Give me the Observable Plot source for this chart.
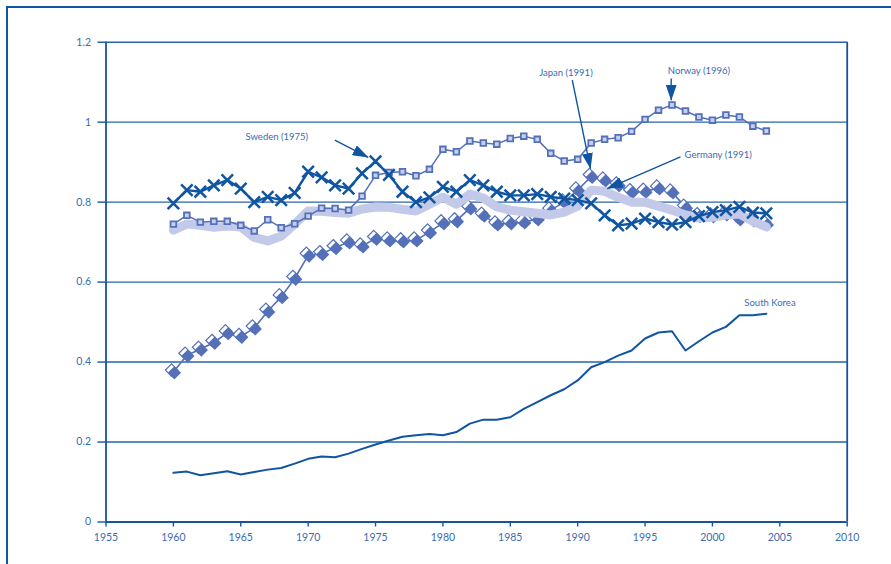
<!DOCTYPE html>
<html>
<head>
<meta charset="utf-8">
<script src="https://cdn.jsdelivr.net/npm/d3@7"></script>
<script src="https://cdn.jsdelivr.net/npm/@observablehq/plot@0.6"></script>
<style>
  html, body { margin: 0; padding: 0; background: #fff; overflow: hidden; }
  #wrap { position: relative; width: 891px; height: 564px; }
  #frame { position: absolute; left: 6px; top: 6px; width: 1000px; height: 1000px;
           border: 2.5px solid #1256a3; pointer-events: none; }
</style>
</head>
<body>
<div id="wrap"><div id="chart"></div><div id="frame"></div></div>
<script>
// ---- data ----
const years = [1960,1961,1962,1963,1964,1965,1966,1967,1968,1969,
               1970,1971,1972,1973,1974,1975,1976,1977,1978,1979,
               1980,1981,1982,1983,1984,1985,1986,1987,1988,1989,
               1990,1991,1992,1993,1994,1995,1996,1997,1998,1999,
               2000,2001,2002,2003,2004];

const sweden = [0.797,0.830,0.826,0.842,0.855,0.834,0.800,0.813,0.805,0.823,
                0.876,0.862,0.842,0.834,0.872,0.902,0.868,0.826,0.800,0.812,
                0.838,0.826,0.855,0.842,0.826,0.817,0.817,0.820,0.813,0.809,
                0.805,0.797,0.767,0.742,0.746,0.759,0.750,0.744,0.750,0.765,
                0.775,0.780,0.788,0.774,0.772];

const norway = [0.745,0.767,0.750,0.752,0.752,0.742,0.728,0.756,0.736,0.746,
                0.765,0.785,0.784,0.780,0.815,0.867,0.874,0.876,0.866,0.882,
                0.932,0.926,0.953,0.948,0.945,0.959,0.965,0.957,0.922,0.903,
                0.907,0.948,0.957,0.961,0.977,1.007,1.030,1.043,1.028,1.013,
                1.005,1.018,1.013,0.990,0.978];

const japan = [0.375,0.417,0.432,0.449,0.473,0.464,0.485,0.527,0.563,0.609,
               0.667,0.671,0.686,0.700,0.690,0.709,0.705,0.703,0.705,0.725,
               0.748,0.753,0.785,0.767,0.745,0.748,0.750,0.758,0.780,0.800,
               0.830,0.864,0.855,0.843,0.826,0.827,0.835,0.825,0.787,0.766,
               0.765,0.770,0.758,0.755,0.745];

const germany = [0.730,0.745,0.742,0.737,0.740,0.738,0.712,0.703,0.715,0.745,
                 0.778,0.777,0.774,0.772,0.783,0.788,0.787,0.782,0.778,0.795,
                 0.812,0.795,0.820,0.810,0.788,0.780,0.776,0.772,0.768,0.775,
                 0.790,0.830,0.827,0.812,0.800,0.800,0.790,0.780,0.768,0.760,
                 0.762,0.768,0.770,0.752,0.738];

const southKorea = [0.123,0.126,0.117,0.122,0.127,0.119,0.125,0.131,0.135,0.146,
                    0.158,0.164,0.162,0.171,0.183,0.194,0.204,0.213,0.217,0.220,
                    0.217,0.225,0.246,0.256,0.256,0.262,0.283,0.300,0.317,0.332,
                    0.354,0.387,0.400,0.416,0.429,0.459,0.474,0.477,0.429,0.452,
                    0.474,0.488,0.517,0.517,0.521];

const xTicks = [1955,1960,1965,1970,1975,1980,1985,1990,1995,2000,2005,2010];
const yTicks = [0,0.2,0.4,0.6,0.8,1,1.2];

// annotation labels and arrows (data coordinates)
const labels = [
  {text:"Sweden (1975)",  x:1965.35, y:0.962, anchor:"start"},
  {text:"Japan (1991)",   x:1989.13, y:1.124, anchor:"middle"},
  {text:"Norway (1996)",  x:1999.0,  y:1.128, anchor:"middle"},
  {text:"Germany (1991)", x:1997.93, y:0.917, anchor:"start"},
  {text:"South Korea",    x:2004.27, y:0.548, anchor:"middle"}
];
const arrows = [
  {x1:1971.98, y1:0.955, x2:1974.45, y2:0.912},
  {x1:1989.60, y1:1.105, x2:1990.95, y2:0.884},
  {x1:1996.94, y1:1.109, x2:1996.94, y2:1.055},
  {x1:1997.63, y1:0.913, x2:1992.19, y2:0.834}
];

// ---- build tables ----
const toRows = vals => years.map((year, i) => ({year, value: vals[i]}));
const sw = toRows(sweden), no = toRows(norway), jp = toRows(japan),
      de = toRows(germany), kr = toRows(southKorea);

const gridColor = "#2a63ad";
const axisColor = "#15539f";
const textColor = "#3a6bb4";
const dark = "#0f55a2";
const mid = "#5470b8";

const chart = Plot.plot({
  width: 891,
  height: 564,
  marginLeft: 105.5,
  marginRight: 44.3,
  marginTop: 41.7,
  marginBottom: 42.5,
  style: {fontFamily: "Lato, 'Open Sans', sans-serif", fontSize: "10.5px", background: "white"},
  x: {domain: [1955, 2010], label: null},
  y: {domain: [0, 1.2], label: null},
  marks: [
    Plot.ruleY(yTicks.filter(d => d > 0), {y: d => d, stroke: gridColor, strokeWidth: 1.4}),
    Plot.ruleX([1955, 2010], {x: d => d, stroke: axisColor, strokeWidth: 1.8}),
    Plot.ruleY([0], {y: d => d, stroke: axisColor, strokeWidth: 2}),
    Plot.axisY({ticks: yTicks, tickSize: 8, tickPadding: 7, stroke: axisColor, strokeWidth: 1.4,
                fill: textColor, tickFormat: d => String(d), label: null}),
    Plot.axisX({ticks: xTicks, tickSize: 5, tickPadding: 7, stroke: axisColor, strokeWidth: 1.4,
                fill: textColor, tickFormat: d => String(d), label: null}),

    // South Korea
    Plot.line(kr, {x: "year", y: "value", stroke: dark, strokeWidth: 2}),

    // Japan (diamonds)
    Plot.line(jp, {x: "year", y: "value", stroke: mid, strokeWidth: 1.6}),
    Plot.dot(jp, {x: "year", y: "value", symbol: "diamond2", r: 5.6, fill: "white",
                  stroke: mid, strokeWidth: 1.2, dx: -1.8, dy: -2}),
    Plot.dot(jp, {x: "year", y: "value", symbol: "diamond2", r: 6, fill: mid,
                  stroke: "none", dx: 1, dy: 0.8}),

    // Germany (thick light band)
    Plot.line(de, {x: "year", y: "value", stroke: "#c3c9e8", strokeWidth: 9}),

    // Norway (squares)
    Plot.line(no, {x: "year", y: "value", stroke: mid, strokeWidth: 1.5}),
    Plot.dot(no, {x: "year", y: "value", symbol: "square", r: 3.2, fill: "#c8d0ee",
                  stroke: mid, strokeWidth: 1.8}),

    // Sweden (crosses)
    Plot.line(sw, {x: "year", y: "value", stroke: dark, strokeWidth: 2.4}),
    Plot.dot(sw, {x: "year", y: "value", symbol: "times", r: 5.3, stroke: dark, strokeWidth: 2.5}),

    // annotations
    Plot.link(arrows, {x1: "x1", y1: "y1", x2: "x2", y2: "y2", stroke: dark, strokeWidth: 1.4}),
    Plot.text(labels.filter(d => d.anchor === "start"),
              {x: "x", y: "y", text: "text", textAnchor: "start", fill: textColor, fontSize: 9.5}),
    Plot.text(labels.filter(d => d.anchor === "middle"),
              {x: "x", y: "y", text: "text", textAnchor: "middle", fill: textColor, fontSize: 9.5})
  ]
});

// filled triangular arrowheads on the annotation links
const ns = "http://www.w3.org/2000/svg";
const defs = document.createElementNS(ns, "defs");
const marker = document.createElementNS(ns, "marker");
marker.setAttribute("id", "arrowhead");
marker.setAttribute("markerUnits", "userSpaceOnUse");
marker.setAttribute("viewBox", "0 0 16 11");
marker.setAttribute("markerWidth", "16");
marker.setAttribute("markerHeight", "11");
marker.setAttribute("refX", "15.5");
marker.setAttribute("refY", "5.5");
marker.setAttribute("orient", "auto");
const head = document.createElementNS(ns, "path");
head.setAttribute("d", "M0,0L16,5.5L0,11Z");
head.setAttribute("fill", dark);
marker.appendChild(head);
defs.appendChild(marker);
chart.insertBefore(defs, chart.firstChild);
chart.querySelectorAll('g[aria-label="link"] path').forEach(p => p.setAttribute("marker-end", "url(#arrowhead)"));

document.getElementById("chart").appendChild(chart);
</script>
</body>
</html>
